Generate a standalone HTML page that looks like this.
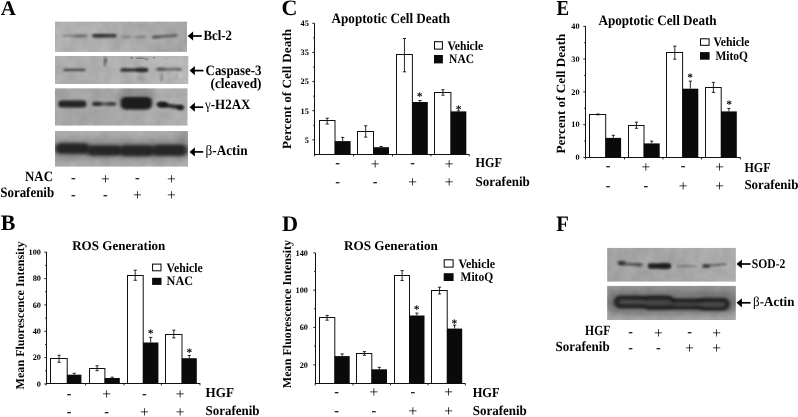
<!DOCTYPE html>
<html lang="en"><head><meta charset="utf-8"><title>Figure</title>
<style>html,body{margin:0;padding:0;background:#fff;overflow:hidden}svg{display:block;will-change:transform}</style></head><body>
<svg width="798" height="417" viewBox="0 0 798 417" font-family='"Liberation Serif", "DejaVu Serif", serif' fill="#000" text-rendering="geometricPrecision">
<defs>
<filter id="b0" x="-50%" y="-50%" width="200%" height="200%"><feGaussianBlur stdDeviation="0.55"/></filter>
<linearGradient id="gR" x1="0" x2="1" y1="0" y2="0"><stop offset="0" stop-color="#fff" stop-opacity="0.04"/><stop offset="1" stop-color="#000" stop-opacity="0.05"/></linearGradient>
<linearGradient id="gL" x1="0" x2="1" y1="0" y2="0"><stop offset="0" stop-color="#000" stop-opacity="0.04"/><stop offset="1" stop-color="#fff" stop-opacity="0.06"/></linearGradient>
<linearGradient id="gV" x1="0" x2="0" y1="0" y2="1"><stop offset="0" stop-color="#fff" stop-opacity="0.08"/><stop offset="0.5" stop-color="#000" stop-opacity="0.04"/><stop offset="1" stop-color="#fff" stop-opacity="0.04"/></linearGradient>
<linearGradient id="gV2" x1="0" x2="0" y1="0" y2="1"><stop offset="0" stop-color="#000" stop-opacity="0.05"/><stop offset="1" stop-color="#fff" stop-opacity="0.10"/></linearGradient>
<filter id="b1" x="-20%" y="-100%" width="140%" height="300%"><feGaussianBlur stdDeviation="1.3 0.9"/></filter>
<filter id="b2" x="-20%" y="-100%" width="140%" height="300%"><feGaussianBlur stdDeviation="1.5 1.3"/></filter>
<filter id="b2b" x="-20%" y="-100%" width="140%" height="300%"><feGaussianBlur stdDeviation="2.0 1.8"/></filter>
<filter id="b3" x="-30%" y="-150%" width="160%" height="400%"><feGaussianBlur stdDeviation="3 3"/></filter>
<filter id="noise" x="0" y="0" width="100%" height="100%"><feTurbulence type="fractalNoise" baseFrequency="0.09" numOctaves="2" seed="4"/><feColorMatrix type="matrix" values="0 0 0 0 0  0 0 0 0 0  0 0 0 0 0  1.6 0 0 0 -0.45"/></filter>
</defs>
<rect width="798" height="417" fill="#fff"/>
<text x="0.8" y="15.2" font-size="21" font-weight="bold" text-anchor="start">A</text>
<text x="0.8" y="230.3" font-size="22" font-weight="bold" text-anchor="start">B</text>
<text x="281.4" y="15.0" font-size="22" font-weight="bold" text-anchor="start">C</text>
<text x="282.0" y="230.9" font-size="22.3" font-weight="bold" text-anchor="start">D</text>
<text x="556.6" y="14.9" font-size="21.3" font-weight="bold" text-anchor="start" textLength="12.6" lengthAdjust="spacingAndGlyphs">E</text>
<text x="556.2" y="230.7" font-size="22" font-weight="bold" text-anchor="start" textLength="12.6" lengthAdjust="spacingAndGlyphs">F</text>
<clipPath id="cA1"><rect x="55.0" y="21.4" width="132.0" height="30.5"/></clipPath>
<g clip-path="url(#cA1)">
<rect x="55.00" y="21.40" width="132.00" height="30.50" fill="#b4b4b4"/>
<rect x="55.00" y="21.40" width="132.00" height="30.50" fill="url(#gR)"/>
<rect x="55.00" y="21.40" width="132.00" height="30.50" fill="#000" filter="url(#noise)" opacity="0.09"/>
<rect x="62.5" y="34.70" width="25.5" height="2.4" rx="1.2" fill="#151515" opacity="0.3" filter="url(#b1)"/>
<ellipse cx="80.5" cy="35.9" rx="5.5" ry="1.5" fill="#151515" opacity="0.22" filter="url(#b1)"/>
<rect x="92" y="34.00" width="24.6" height="3.6" rx="1.8" fill="#151515" opacity="0.8" filter="url(#b1)"/>
<ellipse cx="100" cy="35.8" rx="6" ry="1.6" fill="#151515" opacity="0.2" filter="url(#b1)"/>
<ellipse cx="126" cy="37.0" rx="5" ry="1.1" fill="#151515" opacity="0.22" filter="url(#b1)"/>
<ellipse cx="140" cy="37.0" rx="5.5" ry="1.2" fill="#151515" opacity="0.26" filter="url(#b1)"/>
<rect x="121" y="36.20" width="25.0" height="1.6" rx="0.8" fill="#151515" opacity="0.1" filter="url(#b1)"/>
<rect x="151.8" y="35.00" width="25.8" height="2.6" rx="1.3" fill="#151515" opacity="0.55" filter="url(#b1)" transform="rotate(-4.2 164.7 36.3)"/>
<ellipse cx="156.5" cy="37.1" rx="4" ry="1.6" fill="#151515" opacity="0.2" filter="url(#b1)"/>
</g>
<clipPath id="cA2"><rect x="55.0" y="56.0" width="133.5" height="28.0"/></clipPath>
<g clip-path="url(#cA2)">
<rect x="55.00" y="56.00" width="133.50" height="28.00" fill="#b9b9b9"/>
<rect x="55.00" y="56.00" width="133.50" height="28.00" fill="url(#gL)"/>
<rect x="55.00" y="56.00" width="133.50" height="28.00" fill="#000" filter="url(#noise)" opacity="0.09"/>
<rect x="63.6" y="68.75" width="22.0" height="2.3" rx="1.15" fill="#151515" opacity="0.72" filter="url(#b1)"/>
<ellipse cx="105.4" cy="60.3" rx="1.3" ry="3.2" fill="#151515" opacity="0.62" filter="url(#b1)"/>
<ellipse cx="104.8" cy="64.4" rx="1.0" ry="2.0" fill="#151515" opacity="0.5" filter="url(#b1)"/>
<rect x="120.3" y="68.40" width="28.1" height="3.0" rx="1.5" fill="#151515" opacity="0.85" filter="url(#b1)"/>
<ellipse cx="141.5" cy="70.0" rx="6.2" ry="2.4" fill="#151515" opacity="0.5" filter="url(#b1)"/>
<ellipse cx="125" cy="69.6" rx="4" ry="1.4" fill="#151515" opacity="0.2" filter="url(#b1)"/>
<rect x="156.2" y="68.00" width="25.2" height="2.4" rx="1.2" fill="#151515" opacity="0.48" filter="url(#b1)"/>
<ellipse cx="161.5" cy="69.3" rx="4.5" ry="1.7" fill="#151515" opacity="0.3" filter="url(#b1)"/>
<ellipse cx="178.8" cy="70.0" rx="2.4" ry="1.8" fill="#151515" opacity="0.15" filter="url(#b1)"/>
<ellipse cx="131.5" cy="58.0" rx="1.4" ry="0.9" fill="#151515" opacity="0.35" filter="url(#b0)"/>
<ellipse cx="140.5" cy="58.2" rx="4.5" ry="0.9" fill="#151515" opacity="0.32" filter="url(#b0)"/>
<ellipse cx="146.5" cy="59.2" rx="1.6" ry="0.8" fill="#151515" opacity="0.38" filter="url(#b0)"/>
<ellipse cx="154" cy="57.8" rx="1.3" ry="0.7" fill="#151515" opacity="0.3" filter="url(#b0)"/>
<ellipse cx="166.5" cy="58.6" rx="0.7" ry="0.7" fill="#151515" opacity="0.28" filter="url(#b0)"/>
<ellipse cx="140.5" cy="77.5" rx="4.0" ry="3.2" fill="#151515" opacity="0.13" filter="url(#b1)"/>
<ellipse cx="161.6" cy="77.5" rx="1.6" ry="4.5" fill="#151515" opacity="0.22" filter="url(#b1)"/>
<ellipse cx="179" cy="74.5" rx="2.6" ry="4.0" fill="#fff" opacity="0.1" filter="url(#b1)"/>
<ellipse cx="176.5" cy="76" rx="1.2" ry="3.5" fill="#151515" opacity="0.12" filter="url(#b1)"/>
</g>
<clipPath id="cA3"><rect x="55.0" y="88.2" width="132.7" height="37.5"/></clipPath>
<g clip-path="url(#cA3)">
<rect x="55.00" y="88.20" width="132.70" height="37.50" fill="#b0b0b0"/>
<rect x="55.00" y="88.20" width="132.70" height="37.50" fill="url(#gL)"/>
<rect x="55.00" y="88.20" width="132.70" height="37.50" fill="#000" filter="url(#noise)" opacity="0.09"/>
<rect x="58.2" y="100.60" width="28.2" height="7.0" rx="3.5" fill="#1a1a1a" opacity="0.93" filter="url(#b1)"/>
<ellipse cx="97" cy="103.8" rx="4.8" ry="2.3" fill="#151515" opacity="0.6" filter="url(#b1)"/>
<rect x="92.6" y="102.40" width="23.6" height="3.0" rx="1.5" fill="#151515" opacity="0.6" filter="url(#b1)"/>
<ellipse cx="111.5" cy="103.7" rx="4" ry="1.8" fill="#151515" opacity="0.4" filter="url(#b1)"/>
<rect x="120" y="87.00" width="32.5" height="20" rx="6" fill="#222" opacity="0.22" filter="url(#b3)"/>
<rect x="120.6" y="96.90" width="31.4" height="12.6" rx="5" fill="#181818" opacity="0.95" filter="url(#b2)"/>
<ellipse cx="162.2" cy="104.5" rx="5.8" ry="3.1" fill="#151515" opacity="0.88" filter="url(#b1)"/>
<rect x="158.5" y="103.90" width="24.5" height="4.0" rx="2.0" fill="#151515" opacity="0.85" filter="url(#b1)" transform="rotate(7.5 170.8 105.9)"/>
<ellipse cx="180.4" cy="107.5" rx="3.6" ry="2.6" fill="#151515" opacity="0.8" filter="url(#b1)"/>
</g>
<clipPath id="cA4"><rect x="55.0" y="131.0" width="133.0" height="35.8"/></clipPath>
<g clip-path="url(#cA4)">
<rect x="55.00" y="131.00" width="133.00" height="35.80" fill="#adadad"/>
<rect x="55.00" y="131.00" width="133.00" height="35.80" fill="url(#gV)"/>
<rect x="55.00" y="131.00" width="133.00" height="35.80" fill="#000" filter="url(#noise)" opacity="0.09"/>
<rect x="54" y="140.80" width="136.0" height="18" rx="6" fill="#222" opacity="0.22" filter="url(#b3)"/>
<rect x="55.0" y="142.90" width="35.0" height="11.2" rx="5.6" fill="#1a1a1a" opacity="0.9" filter="url(#b2b)"/>
<rect x="86.5" y="145.20" width="36.0" height="10.6" rx="5.3" fill="#1a1a1a" opacity="0.9" filter="url(#b2b)"/>
<rect x="119" y="145.00" width="36.0" height="11.2" rx="5.6" fill="#1a1a1a" opacity="0.9" filter="url(#b2b)"/>
<rect x="151.5" y="144.50" width="35.7" height="11.6" rx="5.8" fill="#1a1a1a" opacity="0.9" filter="url(#b2b)"/>
<ellipse cx="183" cy="137" rx="6" ry="6" fill="#151515" opacity="0.18" filter="url(#b3)"/>
</g>
<line x1="191.6" y1="36.0" x2="201.8" y2="36.0" stroke="#000" stroke-width="1.7"/>
<polygon points="187.7,36.0 193.1,31.4 193.1,40.6" fill="#000"/>
<text x="203.5" y="40.4" font-size="14.3" font-weight="bold" text-anchor="start" textLength="28.5" lengthAdjust="spacingAndGlyphs">Bcl-2</text>
<line x1="193.4" y1="70.6" x2="203.5" y2="70.6" stroke="#000" stroke-width="1.7"/>
<polygon points="189.5,70.6 194.9,66.0 194.9,75.19999999999999" fill="#000"/>
<text x="205.6" y="74.9" font-size="14.3" font-weight="bold" text-anchor="start" textLength="55.9" lengthAdjust="spacingAndGlyphs">Caspase-3</text>
<text x="210.5" y="88.3" font-size="14.3" font-weight="bold" text-anchor="start" textLength="51" lengthAdjust="spacingAndGlyphs">(cleaved)</text>
<line x1="193.4" y1="107.2" x2="203.2" y2="107.2" stroke="#000" stroke-width="1.7"/>
<polygon points="189.5,107.2 194.9,102.60000000000001 194.9,111.8" fill="#000"/>
<text x="205.0" y="109.0" font-size="14.3" font-weight="bold" text-anchor="start" textLength="45.4" lengthAdjust="spacingAndGlyphs"><tspan font-weight="normal">γ</tspan>-H2AX</text>
<line x1="193.4" y1="151.9" x2="203.2" y2="151.9" stroke="#000" stroke-width="1.7"/>
<polygon points="189.5,151.9 194.9,147.3 194.9,156.5" fill="#000"/>
<text x="205.5" y="154.9" font-size="14.3" font-weight="bold" text-anchor="start" textLength="42.1" lengthAdjust="spacingAndGlyphs"><tspan font-weight="normal">β</tspan>-Actin</text>
<text x="73.4" y="182.2" font-size="14" font-weight="bold" text-anchor="middle">-</text>
<text x="105.3" y="183.5" font-size="15.5" font-weight="normal" text-anchor="middle">+</text>
<text x="137.3" y="182.2" font-size="14" font-weight="bold" text-anchor="middle">-</text>
<text x="171.4" y="183.5" font-size="15.5" font-weight="normal" text-anchor="middle">+</text>
<text x="73.4" y="198.6" font-size="14" font-weight="bold" text-anchor="middle">-</text>
<text x="105.3" y="198.6" font-size="14" font-weight="bold" text-anchor="middle">-</text>
<text x="137.3" y="199.9" font-size="15.5" font-weight="normal" text-anchor="middle">+</text>
<text x="171.4" y="199.9" font-size="15.5" font-weight="normal" text-anchor="middle">+</text>
<text x="25" y="180.5" font-size="14.3" font-weight="bold" text-anchor="start" textLength="28" lengthAdjust="spacingAndGlyphs">NAC</text>
<text x="0.3" y="197.0" font-size="14.3" font-weight="bold" text-anchor="start" textLength="53.8" lengthAdjust="spacingAndGlyphs">Sorafenib</text>
<line x1="46.5" y1="251.8" x2="46.5" y2="384.0" stroke="#111" stroke-width="1.0"/>
<line x1="46.0" y1="383.5" x2="200.2" y2="383.5" stroke="#111" stroke-width="1.0"/>
<line x1="44.3" y1="384.0" x2="46.5" y2="384.0" stroke="#111" stroke-width="0.9"/>
<text x="41.0" y="386.8" font-size="8.3" font-weight="bold" text-anchor="end">0</text>
<line x1="44.3" y1="357.64" x2="46.5" y2="357.64" stroke="#111" stroke-width="0.9"/>
<text x="41.0" y="360.44" font-size="8.3" font-weight="bold" text-anchor="end">20</text>
<line x1="44.3" y1="331.28" x2="46.5" y2="331.28" stroke="#111" stroke-width="0.9"/>
<text x="41.0" y="334.08" font-size="8.3" font-weight="bold" text-anchor="end">40</text>
<line x1="44.3" y1="304.92" x2="46.5" y2="304.92" stroke="#111" stroke-width="0.9"/>
<text x="41.0" y="307.72" font-size="8.3" font-weight="bold" text-anchor="end">60</text>
<line x1="44.3" y1="278.56" x2="46.5" y2="278.56" stroke="#111" stroke-width="0.9"/>
<text x="41.0" y="281.36" font-size="8.3" font-weight="bold" text-anchor="end">80</text>
<line x1="44.3" y1="252.2" x2="46.5" y2="252.2" stroke="#111" stroke-width="0.9"/>
<text x="41.0" y="255.0" font-size="8.3" font-weight="bold" text-anchor="end">100</text>
<line x1="45.0" y1="370.82" x2="46.5" y2="370.82" stroke="#111" stroke-width="0.8"/>
<line x1="45.0" y1="344.46" x2="46.5" y2="344.46" stroke="#111" stroke-width="0.8"/>
<line x1="45.0" y1="318.1" x2="46.5" y2="318.1" stroke="#111" stroke-width="0.8"/>
<line x1="45.0" y1="291.74" x2="46.5" y2="291.74" stroke="#111" stroke-width="0.8"/>
<line x1="45.0" y1="265.38" x2="46.5" y2="265.38" stroke="#111" stroke-width="0.8"/>
<line x1="46.1" y1="383.5" x2="46.1" y2="385.4" stroke="#111" stroke-width="0.9"/>
<line x1="85.6" y1="383.5" x2="85.6" y2="385.4" stroke="#111" stroke-width="0.9"/>
<line x1="124" y1="383.5" x2="124" y2="385.4" stroke="#111" stroke-width="0.9"/>
<line x1="161.4" y1="383.5" x2="161.4" y2="385.4" stroke="#111" stroke-width="0.9"/>
<line x1="200" y1="383.5" x2="200" y2="385.4" stroke="#111" stroke-width="0.9"/>
<rect x="50.50" y="358.50" width="16.70" height="25.00" fill="#fff" stroke="#111" stroke-width="1.0"/>
<line x1="59.050000000000004" y1="355.3" x2="59.050000000000004" y2="362.3" stroke="#111" stroke-width="0.9"/>
<line x1="57.45" y1="355.3" x2="60.650000000000006" y2="355.3" stroke="#111" stroke-width="0.9"/>
<line x1="57.45" y1="362.3" x2="60.650000000000006" y2="362.3" stroke="#111" stroke-width="0.9"/>
<rect x="67.00" y="374.70" width="14.40" height="8.80" fill="#0a0a0a"/>
<line x1="74.2" y1="373.3" x2="74.2" y2="374.7" stroke="#111" stroke-width="0.9"/>
<line x1="72.60000000000001" y1="373.3" x2="75.8" y2="373.3" stroke="#111" stroke-width="0.9"/>
<rect x="89.50" y="368.50" width="15.40" height="15.00" fill="#fff" stroke="#111" stroke-width="1.0"/>
<line x1="97.05" y1="365.8" x2="97.05" y2="370.7" stroke="#111" stroke-width="0.9"/>
<line x1="95.45" y1="365.8" x2="98.64999999999999" y2="365.8" stroke="#111" stroke-width="0.9"/>
<line x1="95.45" y1="370.7" x2="98.64999999999999" y2="370.7" stroke="#111" stroke-width="0.9"/>
<rect x="104.70" y="378.00" width="15.10" height="5.50" fill="#0a0a0a"/>
<line x1="112.25" y1="377.2" x2="112.25" y2="378" stroke="#111" stroke-width="0.9"/>
<line x1="110.65" y1="377.2" x2="113.85" y2="377.2" stroke="#111" stroke-width="0.9"/>
<rect x="127.50" y="275.50" width="15.70" height="108.00" fill="#fff" stroke="#111" stroke-width="1.0"/>
<line x1="135.2" y1="270.2" x2="135.2" y2="280.3" stroke="#111" stroke-width="0.9"/>
<line x1="133.6" y1="270.2" x2="136.79999999999998" y2="270.2" stroke="#111" stroke-width="0.9"/>
<line x1="133.6" y1="280.3" x2="136.79999999999998" y2="280.3" stroke="#111" stroke-width="0.9"/>
<rect x="143.00" y="342.50" width="15.40" height="41.00" fill="#0a0a0a"/>
<line x1="150.7" y1="337.4" x2="150.7" y2="342.5" stroke="#111" stroke-width="0.9"/>
<line x1="149.1" y1="337.4" x2="152.29999999999998" y2="337.4" stroke="#111" stroke-width="0.9"/>
<rect x="165.50" y="334.50" width="16.50" height="49.00" fill="#fff" stroke="#111" stroke-width="1.0"/>
<line x1="173.8" y1="330.2" x2="173.8" y2="337.9" stroke="#111" stroke-width="0.9"/>
<line x1="172.20000000000002" y1="330.2" x2="175.4" y2="330.2" stroke="#111" stroke-width="0.9"/>
<line x1="172.20000000000002" y1="337.9" x2="175.4" y2="337.9" stroke="#111" stroke-width="0.9"/>
<rect x="181.80" y="358.20" width="15.00" height="25.30" fill="#0a0a0a"/>
<line x1="189.3" y1="355.4" x2="189.3" y2="358.2" stroke="#111" stroke-width="0.9"/>
<line x1="187.70000000000002" y1="355.4" x2="190.9" y2="355.4" stroke="#111" stroke-width="0.9"/>
<text x="150.5" y="337.3" font-size="11.5" font-weight="bold" text-anchor="middle">*</text>
<text x="189.3" y="355.5" font-size="11.5" font-weight="bold" text-anchor="middle">*</text>
<rect x="152.60" y="264.10" width="8.40" height="6.70" fill="#fff" stroke="#000" stroke-width="1"/>
<rect x="152.10" y="277.80" width="9.40" height="7.10" fill="#0a0a0a"/>
<text x="166.6" y="271.8" font-size="13" font-weight="bold" text-anchor="start" textLength="36.0" lengthAdjust="spacingAndGlyphs">Vehicle</text>
<text x="166.6" y="285.2" font-size="13" font-weight="bold" text-anchor="start" textLength="26.4" lengthAdjust="spacingAndGlyphs">NAC</text>
<text x="72.2" y="249.8" font-size="13.3" font-weight="bold" text-anchor="start" textLength="93.1" lengthAdjust="spacingAndGlyphs">ROS Generation</text>
<text transform="translate(24.0,389.4) rotate(-90)" font-size="12" font-weight="bold" textLength="148" lengthAdjust="spacingAndGlyphs">Mean Fluorescence Intensity</text>
<text x="69" y="398.0" font-size="14" font-weight="bold" text-anchor="middle">-</text>
<text x="106.5" y="399.29999999999995" font-size="15.5" font-weight="normal" text-anchor="middle">+</text>
<text x="144.4" y="398.0" font-size="14" font-weight="bold" text-anchor="middle">-</text>
<text x="180" y="399.29999999999995" font-size="15.5" font-weight="normal" text-anchor="middle">+</text>
<text x="69" y="415.90000000000003" font-size="14" font-weight="bold" text-anchor="middle">-</text>
<text x="106.5" y="415.90000000000003" font-size="14" font-weight="bold" text-anchor="middle">-</text>
<text x="144.4" y="417.2" font-size="15.5" font-weight="normal" text-anchor="middle">+</text>
<text x="180" y="417.2" font-size="15.5" font-weight="normal" text-anchor="middle">+</text>
<text x="205.6" y="397.2" font-size="13.6" font-weight="bold" text-anchor="start" textLength="28.4" lengthAdjust="spacingAndGlyphs">HGF</text>
<text x="205.6" y="415.3" font-size="13.6" font-weight="bold" text-anchor="start" textLength="53.9" lengthAdjust="spacingAndGlyphs">Sorafenib</text>
<line x1="314.5" y1="23.2" x2="314.5" y2="155.0" stroke="#111" stroke-width="1.0"/>
<line x1="314.0" y1="154.5" x2="469.3" y2="154.5" stroke="#111" stroke-width="1.0"/>
<line x1="312.3" y1="139.835" x2="314.5" y2="139.835" stroke="#111" stroke-width="0.9"/>
<text x="308.9" y="142.63500000000002" font-size="8.3" font-weight="bold" text-anchor="end">5</text>
<line x1="312.3" y1="110.70500000000001" x2="314.5" y2="110.70500000000001" stroke="#111" stroke-width="0.9"/>
<text x="308.9" y="113.50500000000001" font-size="8.3" font-weight="bold" text-anchor="end">15</text>
<line x1="312.3" y1="81.57500000000002" x2="314.5" y2="81.57500000000002" stroke="#111" stroke-width="0.9"/>
<text x="308.9" y="84.37500000000001" font-size="8.3" font-weight="bold" text-anchor="end">25</text>
<line x1="312.3" y1="52.44500000000001" x2="314.5" y2="52.44500000000001" stroke="#111" stroke-width="0.9"/>
<text x="308.9" y="55.245000000000005" font-size="8.3" font-weight="bold" text-anchor="end">35</text>
<line x1="312.3" y1="23.315000000000026" x2="314.5" y2="23.315000000000026" stroke="#111" stroke-width="0.9"/>
<text x="308.9" y="26.115000000000027" font-size="8.3" font-weight="bold" text-anchor="end">45</text>
<line x1="313.0" y1="125.27000000000001" x2="314.5" y2="125.27000000000001" stroke="#111" stroke-width="0.8"/>
<line x1="313.0" y1="96.14000000000001" x2="314.5" y2="96.14000000000001" stroke="#111" stroke-width="0.8"/>
<line x1="313.0" y1="67.01" x2="314.5" y2="67.01" stroke="#111" stroke-width="0.8"/>
<line x1="313.0" y1="37.88000000000001" x2="314.5" y2="37.88000000000001" stroke="#111" stroke-width="0.8"/>
<line x1="314.6" y1="154.5" x2="314.6" y2="156.4" stroke="#111" stroke-width="0.9"/>
<line x1="353.5" y1="154.5" x2="353.5" y2="156.4" stroke="#111" stroke-width="0.9"/>
<line x1="392.5" y1="154.5" x2="392.5" y2="156.4" stroke="#111" stroke-width="0.9"/>
<line x1="431" y1="154.5" x2="431" y2="156.4" stroke="#111" stroke-width="0.9"/>
<line x1="469.3" y1="154.5" x2="469.3" y2="156.4" stroke="#111" stroke-width="0.9"/>
<rect x="319.50" y="120.50" width="15.50" height="34.00" fill="#fff" stroke="#111" stroke-width="1.0"/>
<line x1="327.2" y1="118.2" x2="327.2" y2="124" stroke="#111" stroke-width="0.9"/>
<line x1="325.59999999999997" y1="118.2" x2="328.8" y2="118.2" stroke="#111" stroke-width="0.9"/>
<line x1="325.59999999999997" y1="124" x2="328.8" y2="124" stroke="#111" stroke-width="0.9"/>
<rect x="334.80" y="141.10" width="15.80" height="13.40" fill="#0a0a0a"/>
<line x1="342.70000000000005" y1="137.4" x2="342.70000000000005" y2="141.1" stroke="#111" stroke-width="0.9"/>
<line x1="341.1" y1="137.4" x2="344.30000000000007" y2="137.4" stroke="#111" stroke-width="0.9"/>
<rect x="357.50" y="131.50" width="16.00" height="23.00" fill="#fff" stroke="#111" stroke-width="1.0"/>
<line x1="365.7" y1="125.8" x2="365.7" y2="137.1" stroke="#111" stroke-width="0.9"/>
<line x1="364.09999999999997" y1="125.8" x2="367.3" y2="125.8" stroke="#111" stroke-width="0.9"/>
<line x1="364.09999999999997" y1="137.1" x2="367.3" y2="137.1" stroke="#111" stroke-width="0.9"/>
<rect x="373.30" y="147.20" width="15.70" height="7.30" fill="#0a0a0a"/>
<line x1="381.15" y1="146.5" x2="381.15" y2="147.2" stroke="#111" stroke-width="0.9"/>
<line x1="379.54999999999995" y1="146.5" x2="382.75" y2="146.5" stroke="#111" stroke-width="0.9"/>
<rect x="396.50" y="54.50" width="15.90" height="100.00" fill="#fff" stroke="#111" stroke-width="1.0"/>
<line x1="404.45" y1="38.5" x2="404.45" y2="71.8" stroke="#111" stroke-width="0.9"/>
<line x1="402.84999999999997" y1="38.5" x2="406.05" y2="38.5" stroke="#111" stroke-width="0.9"/>
<line x1="402.84999999999997" y1="71.8" x2="406.05" y2="71.8" stroke="#111" stroke-width="0.9"/>
<rect x="412.20" y="102.00" width="15.60" height="52.50" fill="#0a0a0a"/>
<line x1="420.0" y1="100.5" x2="420.0" y2="102" stroke="#111" stroke-width="0.9"/>
<line x1="418.4" y1="100.5" x2="421.6" y2="100.5" stroke="#111" stroke-width="0.9"/>
<rect x="434.50" y="92.50" width="16.40" height="62.00" fill="#fff" stroke="#111" stroke-width="1.0"/>
<line x1="442.95" y1="89.7" x2="442.95" y2="95.2" stroke="#111" stroke-width="0.9"/>
<line x1="441.34999999999997" y1="89.7" x2="444.55" y2="89.7" stroke="#111" stroke-width="0.9"/>
<line x1="441.34999999999997" y1="95.2" x2="444.55" y2="95.2" stroke="#111" stroke-width="0.9"/>
<rect x="450.70" y="111.40" width="15.60" height="43.10" fill="#0a0a0a"/>
<line x1="458.5" y1="110.8" x2="458.5" y2="111.4" stroke="#111" stroke-width="0.9"/>
<line x1="456.9" y1="110.8" x2="460.1" y2="110.8" stroke="#111" stroke-width="0.9"/>
<text x="419.5" y="99.89999999999999" font-size="11.5" font-weight="bold" text-anchor="middle">*</text>
<text x="458.5" y="112.5" font-size="11.5" font-weight="bold" text-anchor="middle">*</text>
<rect x="434.50" y="41.70" width="7.90" height="7.40" fill="#fff" stroke="#000" stroke-width="1"/>
<rect x="434.00" y="55.00" width="8.90" height="8.40" fill="#0a0a0a"/>
<text x="447.4" y="49.9" font-size="13" font-weight="bold" text-anchor="start" textLength="35.8" lengthAdjust="spacingAndGlyphs">Vehicle</text>
<text x="449.1" y="63.4" font-size="13" font-weight="bold" text-anchor="start" textLength="24.9" lengthAdjust="spacingAndGlyphs">NAC</text>
<text x="331.5" y="22.5" font-size="14.3" font-weight="bold" text-anchor="start" textLength="118.5" lengthAdjust="spacingAndGlyphs">Apoptotic Cell Death</text>
<text transform="translate(291.3,149.0) rotate(-90)" font-size="12.6" font-weight="bold" textLength="120" lengthAdjust="spacingAndGlyphs">Percent of Cell Death</text>
<text x="337.5" y="167.29999999999998" font-size="14" font-weight="bold" text-anchor="middle">-</text>
<text x="375" y="168.6" font-size="15.5" font-weight="normal" text-anchor="middle">+</text>
<text x="412.7" y="167.29999999999998" font-size="14" font-weight="bold" text-anchor="middle">-</text>
<text x="449.2" y="168.6" font-size="15.5" font-weight="normal" text-anchor="middle">+</text>
<text x="337.5" y="186.0" font-size="14" font-weight="bold" text-anchor="middle">-</text>
<text x="375" y="186.0" font-size="14" font-weight="bold" text-anchor="middle">-</text>
<text x="412.7" y="187.3" font-size="15.5" font-weight="normal" text-anchor="middle">+</text>
<text x="449.2" y="187.3" font-size="15.5" font-weight="normal" text-anchor="middle">+</text>
<text x="475.6" y="166.9" font-size="13.6" font-weight="bold" text-anchor="start" textLength="26.4" lengthAdjust="spacingAndGlyphs">HGF</text>
<text x="475.6" y="185.8" font-size="13.6" font-weight="bold" text-anchor="start" textLength="54.2" lengthAdjust="spacingAndGlyphs">Sorafenib</text>
<line x1="315.5" y1="253.0" x2="315.5" y2="384.0" stroke="#111" stroke-width="1.0"/>
<line x1="315.0" y1="383.5" x2="465.4" y2="383.5" stroke="#111" stroke-width="1.0"/>
<line x1="313.3" y1="364.75" x2="315.5" y2="364.75" stroke="#111" stroke-width="0.9"/>
<text x="308.0" y="367.55" font-size="8.3" font-weight="bold" text-anchor="end">20</text>
<line x1="313.3" y1="327.45" x2="315.5" y2="327.45" stroke="#111" stroke-width="0.9"/>
<text x="308.0" y="330.25" font-size="8.3" font-weight="bold" text-anchor="end">60</text>
<line x1="313.3" y1="290.15" x2="315.5" y2="290.15" stroke="#111" stroke-width="0.9"/>
<text x="308.0" y="292.95" font-size="8.3" font-weight="bold" text-anchor="end">100</text>
<line x1="313.3" y1="252.84999999999997" x2="315.5" y2="252.84999999999997" stroke="#111" stroke-width="0.9"/>
<text x="308.0" y="255.64999999999998" font-size="8.3" font-weight="bold" text-anchor="end">140</text>
<line x1="314.0" y1="346.09999999999997" x2="315.5" y2="346.09999999999997" stroke="#111" stroke-width="0.8"/>
<line x1="314.0" y1="308.79999999999995" x2="315.5" y2="308.79999999999995" stroke="#111" stroke-width="0.8"/>
<line x1="314.0" y1="271.5" x2="315.5" y2="271.5" stroke="#111" stroke-width="0.8"/>
<line x1="315.2" y1="383.5" x2="315.2" y2="385.4" stroke="#111" stroke-width="0.9"/>
<line x1="353" y1="383.5" x2="353" y2="385.4" stroke="#111" stroke-width="0.9"/>
<line x1="390.5" y1="383.5" x2="390.5" y2="385.4" stroke="#111" stroke-width="0.9"/>
<line x1="428" y1="383.5" x2="428" y2="385.4" stroke="#111" stroke-width="0.9"/>
<line x1="465.4" y1="383.5" x2="465.4" y2="385.4" stroke="#111" stroke-width="0.9"/>
<rect x="319.50" y="317.50" width="15.30" height="66.00" fill="#fff" stroke="#111" stroke-width="1.0"/>
<line x1="327.09999999999997" y1="315.4" x2="327.09999999999997" y2="320.2" stroke="#111" stroke-width="0.9"/>
<line x1="325.49999999999994" y1="315.4" x2="328.7" y2="315.4" stroke="#111" stroke-width="0.9"/>
<line x1="325.49999999999994" y1="320.2" x2="328.7" y2="320.2" stroke="#111" stroke-width="0.9"/>
<rect x="334.60" y="356.10" width="15.10" height="27.40" fill="#0a0a0a"/>
<line x1="342.15" y1="353.9" x2="342.15" y2="356.1" stroke="#111" stroke-width="0.9"/>
<line x1="340.54999999999995" y1="353.9" x2="343.75" y2="353.9" stroke="#111" stroke-width="0.9"/>
<rect x="356.50" y="353.50" width="15.30" height="30.00" fill="#fff" stroke="#111" stroke-width="1.0"/>
<line x1="364.40000000000003" y1="351.6" x2="364.40000000000003" y2="355.3" stroke="#111" stroke-width="0.9"/>
<line x1="362.8" y1="351.6" x2="366.00000000000006" y2="351.6" stroke="#111" stroke-width="0.9"/>
<line x1="362.8" y1="355.3" x2="366.00000000000006" y2="355.3" stroke="#111" stroke-width="0.9"/>
<rect x="371.60" y="369.30" width="15.40" height="14.20" fill="#0a0a0a"/>
<line x1="379.3" y1="367.3" x2="379.3" y2="369.3" stroke="#111" stroke-width="0.9"/>
<line x1="377.7" y1="367.3" x2="380.90000000000003" y2="367.3" stroke="#111" stroke-width="0.9"/>
<rect x="394.50" y="275.50" width="15.00" height="108.00" fill="#fff" stroke="#111" stroke-width="1.0"/>
<line x1="402.09999999999997" y1="270.6" x2="402.09999999999997" y2="280.5" stroke="#111" stroke-width="0.9"/>
<line x1="400.49999999999994" y1="270.6" x2="403.7" y2="270.6" stroke="#111" stroke-width="0.9"/>
<line x1="400.49999999999994" y1="280.5" x2="403.7" y2="280.5" stroke="#111" stroke-width="0.9"/>
<rect x="409.30" y="315.50" width="15.20" height="68.00" fill="#0a0a0a"/>
<line x1="416.9" y1="313.1" x2="416.9" y2="315.5" stroke="#111" stroke-width="0.9"/>
<line x1="415.29999999999995" y1="313.1" x2="418.5" y2="313.1" stroke="#111" stroke-width="0.9"/>
<rect x="431.50" y="290.50" width="15.70" height="93.00" fill="#fff" stroke="#111" stroke-width="1.0"/>
<line x1="439.55" y1="287.2" x2="439.55" y2="294.0" stroke="#111" stroke-width="0.9"/>
<line x1="437.95" y1="287.2" x2="441.15000000000003" y2="287.2" stroke="#111" stroke-width="0.9"/>
<line x1="437.95" y1="294.0" x2="441.15000000000003" y2="294.0" stroke="#111" stroke-width="0.9"/>
<rect x="447.00" y="328.60" width="15.20" height="54.90" fill="#0a0a0a"/>
<line x1="454.6" y1="325.1" x2="454.6" y2="328.6" stroke="#111" stroke-width="0.9"/>
<line x1="453.0" y1="325.1" x2="456.20000000000005" y2="325.1" stroke="#111" stroke-width="0.9"/>
<text x="416.7" y="313.40000000000003" font-size="11.5" font-weight="bold" text-anchor="middle">*</text>
<text x="454.3" y="326.5" font-size="11.5" font-weight="bold" text-anchor="middle">*</text>
<rect x="444.20" y="259.80" width="8.90" height="7.30" fill="#fff" stroke="#000" stroke-width="1"/>
<rect x="443.70" y="273.20" width="9.90" height="7.80" fill="#0a0a0a"/>
<text x="458.5" y="267.6" font-size="13" font-weight="bold" text-anchor="start" textLength="36.5" lengthAdjust="spacingAndGlyphs">Vehicle</text>
<text x="460.5" y="280.9" font-size="13" font-weight="bold" text-anchor="start" textLength="32.7" lengthAdjust="spacingAndGlyphs">MitoQ</text>
<text x="344.0" y="250.4" font-size="13.3" font-weight="bold" text-anchor="start" textLength="93.8" lengthAdjust="spacingAndGlyphs">ROS Generation</text>
<text transform="translate(290.8,388.2) rotate(-90)" font-size="12" font-weight="bold" textLength="148.3" lengthAdjust="spacingAndGlyphs">Mean Fluorescence Intensity</text>
<text x="336.5" y="396.1" font-size="14" font-weight="bold" text-anchor="middle">-</text>
<text x="373.9" y="397.4" font-size="15.5" font-weight="normal" text-anchor="middle">+</text>
<text x="412.8" y="396.1" font-size="14" font-weight="bold" text-anchor="middle">-</text>
<text x="448.5" y="397.4" font-size="15.5" font-weight="normal" text-anchor="middle">+</text>
<text x="336.5" y="415.0" font-size="14" font-weight="bold" text-anchor="middle">-</text>
<text x="373.9" y="415.0" font-size="14" font-weight="bold" text-anchor="middle">-</text>
<text x="412.8" y="416.29999999999995" font-size="15.5" font-weight="normal" text-anchor="middle">+</text>
<text x="448.5" y="416.29999999999995" font-size="15.5" font-weight="normal" text-anchor="middle">+</text>
<text x="472.7" y="396.5" font-size="13.6" font-weight="bold" text-anchor="start" textLength="26.9" lengthAdjust="spacingAndGlyphs">HGF</text>
<text x="472.7" y="414.9" font-size="13.6" font-weight="bold" text-anchor="start" textLength="54.1" lengthAdjust="spacingAndGlyphs">Sorafenib</text>
<line x1="585.5" y1="26.2" x2="585.5" y2="158.0" stroke="#111" stroke-width="1.0"/>
<line x1="585.0" y1="157.5" x2="740.6" y2="157.5" stroke="#111" stroke-width="1.0"/>
<line x1="583.3" y1="157.4" x2="585.5" y2="157.4" stroke="#111" stroke-width="0.9"/>
<text x="579.6" y="160.20000000000002" font-size="8.3" font-weight="bold" text-anchor="end">0</text>
<line x1="583.3" y1="124.63" x2="585.5" y2="124.63" stroke="#111" stroke-width="0.9"/>
<text x="579.6" y="127.42999999999999" font-size="8.3" font-weight="bold" text-anchor="end">10</text>
<line x1="583.3" y1="91.86" x2="585.5" y2="91.86" stroke="#111" stroke-width="0.9"/>
<text x="579.6" y="94.66" font-size="8.3" font-weight="bold" text-anchor="end">20</text>
<line x1="583.3" y1="59.09" x2="585.5" y2="59.09" stroke="#111" stroke-width="0.9"/>
<text x="579.6" y="61.89" font-size="8.3" font-weight="bold" text-anchor="end">30</text>
<line x1="583.3" y1="26.319999999999993" x2="585.5" y2="26.319999999999993" stroke="#111" stroke-width="0.9"/>
<text x="579.6" y="29.119999999999994" font-size="8.3" font-weight="bold" text-anchor="end">40</text>
<line x1="584.0" y1="141.01500000000001" x2="585.5" y2="141.01500000000001" stroke="#111" stroke-width="0.8"/>
<line x1="584.0" y1="108.245" x2="585.5" y2="108.245" stroke="#111" stroke-width="0.8"/>
<line x1="584.0" y1="75.47500000000001" x2="585.5" y2="75.47500000000001" stroke="#111" stroke-width="0.8"/>
<line x1="584.0" y1="42.705" x2="585.5" y2="42.705" stroke="#111" stroke-width="0.8"/>
<line x1="585.4" y1="157.5" x2="585.4" y2="159.4" stroke="#111" stroke-width="0.9"/>
<line x1="624.5" y1="157.5" x2="624.5" y2="159.4" stroke="#111" stroke-width="0.9"/>
<line x1="663" y1="157.5" x2="663" y2="159.4" stroke="#111" stroke-width="0.9"/>
<line x1="701.6" y1="157.5" x2="701.6" y2="159.4" stroke="#111" stroke-width="0.9"/>
<line x1="740.4" y1="157.5" x2="740.4" y2="159.4" stroke="#111" stroke-width="0.9"/>
<rect x="589.50" y="114.50" width="16.20" height="43.00" fill="#fff" stroke="#111" stroke-width="1.0"/>
<line x1="597.9000000000001" y1="114.0" x2="597.9000000000001" y2="114.8" stroke="#111" stroke-width="0.9"/>
<line x1="596.3000000000001" y1="114.0" x2="599.5000000000001" y2="114.0" stroke="#111" stroke-width="0.9"/>
<line x1="596.3000000000001" y1="114.8" x2="599.5000000000001" y2="114.8" stroke="#111" stroke-width="0.9"/>
<rect x="605.50" y="137.90" width="15.60" height="19.60" fill="#0a0a0a"/>
<line x1="613.3" y1="135.3" x2="613.3" y2="137.9" stroke="#111" stroke-width="0.9"/>
<line x1="611.6999999999999" y1="135.3" x2="614.9" y2="135.3" stroke="#111" stroke-width="0.9"/>
<rect x="628.50" y="125.50" width="15.50" height="32.00" fill="#fff" stroke="#111" stroke-width="1.0"/>
<line x1="636.45" y1="122.2" x2="636.45" y2="128.3" stroke="#111" stroke-width="0.9"/>
<line x1="634.85" y1="122.2" x2="638.0500000000001" y2="122.2" stroke="#111" stroke-width="0.9"/>
<line x1="634.85" y1="128.3" x2="638.0500000000001" y2="128.3" stroke="#111" stroke-width="0.9"/>
<rect x="643.80" y="143.40" width="15.90" height="14.10" fill="#0a0a0a"/>
<line x1="651.75" y1="141.1" x2="651.75" y2="143.4" stroke="#111" stroke-width="0.9"/>
<line x1="650.15" y1="141.1" x2="653.35" y2="141.1" stroke="#111" stroke-width="0.9"/>
<rect x="666.50" y="52.50" width="16.10" height="105.00" fill="#fff" stroke="#111" stroke-width="1.0"/>
<line x1="674.8" y1="46.1" x2="674.8" y2="59.2" stroke="#111" stroke-width="0.9"/>
<line x1="673.1999999999999" y1="46.1" x2="676.4" y2="46.1" stroke="#111" stroke-width="0.9"/>
<line x1="673.1999999999999" y1="59.2" x2="676.4" y2="59.2" stroke="#111" stroke-width="0.9"/>
<rect x="682.40" y="88.70" width="15.90" height="68.80" fill="#0a0a0a"/>
<line x1="690.3499999999999" y1="81.1" x2="690.3499999999999" y2="88.7" stroke="#111" stroke-width="0.9"/>
<line x1="688.7499999999999" y1="81.1" x2="691.9499999999999" y2="81.1" stroke="#111" stroke-width="0.9"/>
<rect x="705.50" y="87.50" width="15.70" height="70.00" fill="#fff" stroke="#111" stroke-width="1.0"/>
<line x1="713.4000000000001" y1="82.4" x2="713.4000000000001" y2="92.4" stroke="#111" stroke-width="0.9"/>
<line x1="711.8000000000001" y1="82.4" x2="715.0000000000001" y2="82.4" stroke="#111" stroke-width="0.9"/>
<line x1="711.8000000000001" y1="92.4" x2="715.0000000000001" y2="92.4" stroke="#111" stroke-width="0.9"/>
<rect x="721.00" y="111.40" width="15.80" height="46.10" fill="#0a0a0a"/>
<line x1="728.9" y1="108.4" x2="728.9" y2="111.4" stroke="#111" stroke-width="0.9"/>
<line x1="727.3" y1="108.4" x2="730.5" y2="108.4" stroke="#111" stroke-width="0.9"/>
<text x="690" y="80.89999999999999" font-size="11.5" font-weight="bold" text-anchor="middle">*</text>
<text x="729" y="108.3" font-size="11.5" font-weight="bold" text-anchor="middle">*</text>
<rect x="700.50" y="38.80" width="8.60" height="6.50" fill="#fff" stroke="#000" stroke-width="1"/>
<rect x="700.00" y="52.10" width="9.60" height="7.60" fill="#0a0a0a"/>
<text x="713.4" y="45.8" font-size="13" font-weight="bold" text-anchor="start" textLength="36.0" lengthAdjust="spacingAndGlyphs">Vehicle</text>
<text x="715.4" y="59.7" font-size="13" font-weight="bold" text-anchor="start" textLength="32.5" lengthAdjust="spacingAndGlyphs">MitoQ</text>
<text x="598.4" y="25.0" font-size="14.3" font-weight="bold" text-anchor="start" textLength="118.3" lengthAdjust="spacingAndGlyphs">Apoptotic Cell Death</text>
<text transform="translate(564.9,153.6) rotate(-90)" font-size="12.6" font-weight="bold" textLength="120" lengthAdjust="spacingAndGlyphs">Percent of Cell Death</text>
<text x="608" y="170.4" font-size="14" font-weight="bold" text-anchor="middle">-</text>
<text x="645.8" y="171.70000000000002" font-size="15.5" font-weight="normal" text-anchor="middle">+</text>
<text x="683.2" y="170.4" font-size="14" font-weight="bold" text-anchor="middle">-</text>
<text x="719.7" y="171.70000000000002" font-size="15.5" font-weight="normal" text-anchor="middle">+</text>
<text x="608" y="189.6" font-size="14" font-weight="bold" text-anchor="middle">-</text>
<text x="645.8" y="189.6" font-size="14" font-weight="bold" text-anchor="middle">-</text>
<text x="683.2" y="190.9" font-size="15.5" font-weight="normal" text-anchor="middle">+</text>
<text x="719.7" y="190.9" font-size="15.5" font-weight="normal" text-anchor="middle">+</text>
<text x="744.4" y="171.9" font-size="13.6" font-weight="bold" text-anchor="start" textLength="26.2" lengthAdjust="spacingAndGlyphs">HGF</text>
<text x="744.4" y="189" font-size="13.6" font-weight="bold" text-anchor="start" textLength="54.0" lengthAdjust="spacingAndGlyphs">Sorafenib</text>
<clipPath id="cF1"><rect x="607.1" y="247.8" width="128.8" height="34.0"/></clipPath>
<g clip-path="url(#cF1)">
<rect x="607.10" y="247.80" width="128.80" height="34.00" fill="#aeaeae"/>
<rect x="607.10" y="247.80" width="128.80" height="34.00" fill="url(#gL)"/>
<rect x="607.10" y="247.80" width="128.80" height="34.00" fill="#000" filter="url(#noise)" opacity="0.09"/>
<ellipse cx="621.5" cy="262.8" rx="4.0" ry="2.1" fill="#151515" opacity="0.66" filter="url(#b1)"/>
<rect x="619" y="262.90" width="23.6" height="2.6" rx="1.3" fill="#151515" opacity="0.58" filter="url(#b1)" transform="rotate(2.8 630.8 264.2)"/>
<ellipse cx="638.5" cy="265.0" rx="3.2" ry="1.5" fill="#151515" opacity="0.25" filter="url(#b1)"/>
<rect x="647.8" y="263.30" width="23.4" height="5.4" rx="2.7" fill="#181818" opacity="0.92" filter="url(#b1)"/>
<ellipse cx="664" cy="266.3" rx="6" ry="3.0" fill="#151515" opacity="0.4" filter="url(#b1)"/>
<rect x="676.5" y="265.25" width="19.7" height="1.9" rx="0.95" fill="#151515" opacity="0.3" filter="url(#b1)"/>
<ellipse cx="706.2" cy="266.0" rx="4.0" ry="2.0" fill="#151515" opacity="0.58" filter="url(#b1)"/>
<rect x="703" y="263.95" width="24.0" height="2.1" rx="1.05" fill="#151515" opacity="0.5" filter="url(#b1)" transform="rotate(-5 715.0 265.0)"/>
</g>
<clipPath id="cF2"><rect x="607.1" y="285.8" width="128.8" height="34.2"/></clipPath>
<g clip-path="url(#cF2)">
<rect x="607.10" y="285.80" width="128.80" height="34.20" fill="#a3a3a3"/>
<rect x="607.10" y="285.80" width="128.80" height="34.20" fill="url(#gV2)"/>
<rect x="607.10" y="285.80" width="128.80" height="34.20" fill="#000" filter="url(#noise)" opacity="0.09"/>
<rect x="606" y="290.80" width="131.0" height="24" rx="10" fill="#222" opacity="0.3" filter="url(#b3)"/>
<rect x="613.6" y="295.60" width="34.4" height="12.8" rx="6.4" fill="#1c1c1c" opacity="0.88" filter="url(#b2)"/>
<rect x="641" y="295.30" width="34.0" height="14.6" rx="7.3" fill="#1c1c1c" opacity="0.88" filter="url(#b2)"/>
<rect x="667" y="298.20" width="37.0" height="11.6" rx="5.8" fill="#1c1c1c" opacity="0.88" filter="url(#b2)"/>
<rect x="697" y="297.70" width="33.0" height="13.0" rx="6.5" fill="#1c1c1c" opacity="0.88" filter="url(#b2)"/>
<rect x="619" y="299.70" width="26.0" height="4.6" rx="2.3" fill="#fff" opacity="0.16" filter="url(#b2)"/>
<rect x="643" y="300.10" width="29.0" height="5.4" rx="2.7" fill="#fff" opacity="0.14" filter="url(#b2)"/>
<rect x="670" y="302.40" width="31.0" height="3.6" rx="1.8" fill="#fff" opacity="0.12" filter="url(#b2)"/>
<rect x="699" y="301.90" width="26.0" height="5.0" rx="2.5" fill="#fff" opacity="0.15" filter="url(#b2)"/>
</g>
<line x1="740.4" y1="264.0" x2="750.6" y2="264.0" stroke="#000" stroke-width="1.7"/>
<polygon points="736.5,264.0 741.9,259.4 741.9,268.6" fill="#000"/>
<text x="751.8" y="267.9" font-size="13.2" font-weight="bold" text-anchor="start" textLength="33.6" lengthAdjust="spacingAndGlyphs">SOD-2</text>
<line x1="740.4" y1="302.8" x2="750.6" y2="302.8" stroke="#000" stroke-width="1.7"/>
<polygon points="736.5,302.8 741.9,298.2 741.9,307.40000000000003" fill="#000"/>
<text x="753.1" y="306.1" font-size="13.5" font-weight="bold" text-anchor="start" textLength="41.3" lengthAdjust="spacingAndGlyphs"><tspan font-weight="normal">β</tspan>-Actin</text>
<text x="630.5" y="336.40000000000003" font-size="14" font-weight="bold" text-anchor="middle">-</text>
<text x="658.3" y="337.7" font-size="15.5" font-weight="normal" text-anchor="middle">+</text>
<text x="689.7" y="336.40000000000003" font-size="14" font-weight="bold" text-anchor="middle">-</text>
<text x="716.6" y="337.7" font-size="15.5" font-weight="normal" text-anchor="middle">+</text>
<text x="630.5" y="352.0" font-size="14" font-weight="bold" text-anchor="middle">-</text>
<text x="658.3" y="352.0" font-size="14" font-weight="bold" text-anchor="middle">-</text>
<text x="689.7" y="353.29999999999995" font-size="15.5" font-weight="normal" text-anchor="middle">+</text>
<text x="716.6" y="353.29999999999995" font-size="15.5" font-weight="normal" text-anchor="middle">+</text>
<text x="585.1" y="334.6" font-size="14" font-weight="bold" text-anchor="start" textLength="25.2" lengthAdjust="spacingAndGlyphs">HGF</text>
<text x="555.5" y="350.5" font-size="14" font-weight="bold" text-anchor="start" textLength="54.2" lengthAdjust="spacingAndGlyphs">Sorafenib</text>
</svg></body></html>
